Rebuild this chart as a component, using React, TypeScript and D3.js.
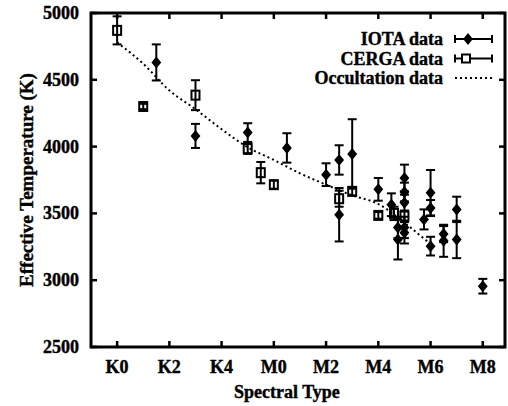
import React from "react";
import * as d3 from "d3";

// spectral types are mapped to an index: K0=0 ... K5=5, M0=6 ... M8=14
const tickIdx = [0, 2, 4, 6, 8, 10, 12, 14];
const tickNames = ["K0", "K2", "K4", "M0", "M2", "M4", "M6", "M8"];
const yTicks = [2500, 3000, 3500, 4000, 4500, 5000];

// [spectral index, Teff, error]
const iotaData = [
  [1.5, 4630, 135],
  [3, 4080, 90],
  [5, 4105, 70],
  [6.5, 3990, 110],
  [8, 3790, 85],
  [8.5, 3900, 110],
  [8.5, 3490, 200],
  [9, 3945, 260],
  [10, 3680, 85],
  [10.5, 3565, 85],
  [10.75, 3395, 80],
  [10.75, 3305, 150],
  [11, 3765, 100],
  [11, 3660, 70],
  [11, 3580, 60],
  [11, 3395, 80],
  [11, 3355, 80],
  [11.75, 3455, 75],
  [12, 3655, 170],
  [12, 3540, 60],
  [12, 3255, 70],
  [12.5, 3345, 60],
  [12.5, 3295, 120],
  [13, 3530, 95],
  [13, 3305, 140],
  [14, 2955, 55]
];

const cergaData = [
  [0, 4870, 105],
  [1, 4300, 20],
  [3, 4385, 112],
  [5, 3985, 40],
  [5.5, 3805, 80],
  [6, 3715, 30],
  [8.5, 3610, 60],
  [9, 3665, 30],
  [10, 3485, 25],
  [10.6, 3500, 50],
  [11, 3480, 40]
];

const occIdx = [0, 1, 2, 3, 4, 5, 6, 7, 8, 9, 10, 11, 12];
const occTeff = [4780, 4620, 4420, 4280, 4130, 3995, 3900, 3800, 3715, 3635, 3570, 3430, 3270];

const legendLabels = ["IOTA data", "CERGA data", "Occultation data"];

const W = 508;
const H = 406;
const left = 91, right = 505, top = 13, bottom = 347;
const font = "'Liberation Serif', 'Times New Roman', serif";

const x = d3.scaleLinear().domain([-1, 14.85]).range([left, right]);
const y = d3.scaleLinear().domain([2500, 5000]).range([bottom, top]);

const occLine = d3
  .line<number>()
  .x((d, i) => x(occIdx[i]))
  .y(d => y(d))
  .curve(d3.curveMonotoneX);

const diamond = (cx: number, cy: number, r = 6) =>
  `M${cx},${cy - r}L${cx + r * 0.82},${cy}L${cx},${cy + r}L${cx - r * 0.82},${cy}Z`;

const ErrBar = ({ d }: { d: number[] }) => {
  const cx = x(d[0]);
  const y1 = y(d[1] + d[2]);
  const y2 = y(d[1] - d[2]);
  return (
    <g stroke="#000" strokeWidth={2}>
      <line x1={cx} x2={cx} y1={y1} y2={y2} />
      <line x1={cx - 4.5} x2={cx + 4.5} y1={y1} y2={y1} />
      <line x1={cx - 4.5} x2={cx + 4.5} y1={y2} y2={y2} />
    </g>
  );
};

const txt = { stroke: "#000", strokeWidth: 0.4 };

export default function App() {
  return (
    <svg
      width={W}
      height={H}
      style={{ position: "absolute", left: 0, top: 0, background: "#fff" }}
      fontFamily={font}
      fontWeight="bold"
    >
      {/* occultation curve */}
      <path
        d={occLine(occTeff) || ""}
        fill="none"
        stroke="#000"
        strokeWidth={2}
        strokeDasharray="2,3"
      />

      {/* CERGA */}
      {cergaData.map((d, i) => (
        <g key={"c" + i}>
          <ErrBar d={d} />
          <rect
            x={x(d[0]) - 4}
            y={y(d[1]) - 4.5}
            width={8}
            height={9}
            fill="none"
            stroke="#000"
            strokeWidth={2}
          />
        </g>
      ))}

      {/* IOTA */}
      {iotaData.map((d, i) => (
        <g key={"i" + i}>
          <ErrBar d={d} />
          <path d={diamond(x(d[0]), y(d[1]))} fill="#000" />
        </g>
      ))}

      {/* frame */}
      <rect
        x={left}
        y={top}
        width={right - left}
        height={bottom - top}
        fill="none"
        stroke="#000"
        strokeWidth={3}
      />
      {tickIdx.map(t => (
        <g key={"xt" + t} stroke="#000" strokeWidth={2.5}>
          <line x1={x(t)} x2={x(t)} y1={bottom} y2={bottom - 6} />
          <line x1={x(t)} x2={x(t)} y1={top} y2={top + 6} />
        </g>
      ))}
      {yTicks.map(t => (
        <g key={"yt" + t} stroke="#000" strokeWidth={2.5}>
          <line x1={left} x2={left + 6} y1={y(t)} y2={y(t)} />
          <line x1={right} x2={right - 6} y1={y(t)} y2={y(t)} />
        </g>
      ))}

      {/* tick labels */}
      {tickIdx.map((t, i) => (
        <text key={"xl" + t} x={x(t)} y={373} textAnchor="middle" fontSize={18} {...txt}>
          {tickNames[i]}
        </text>
      ))}
      {yTicks.map(t => (
        <text key={"yl" + t} x={79} y={y(t) + 6} textAnchor="end" fontSize={18} {...txt}>
          {t}
        </text>
      ))}

      {/* axis titles */}
      <text x={x(6.5)} y={398} textAnchor="middle" fontSize={18} {...txt}>
        Spectral Type
      </text>
      <text
        transform={`translate(33,${(top + bottom) / 2}) rotate(-90)`}
        textAnchor="middle"
        fontSize={19}
        {...txt}
      >
        Effective Temperature (K)
      </text>

      {/* legend */}
      {legendLabels.map((l, i) => (
        <text key={l} x={443} y={45 + i * 19.5} textAnchor="end" fontSize={18} {...txt}>
          {l}
        </text>
      ))}
      <g stroke="#000" strokeWidth={2}>
        <line x1={455} x2={492} y1={39} y2={39} />
        <line x1={455} x2={455} y1={35} y2={43} />
        <line x1={492} x2={492} y1={35} y2={43} />
        <line x1={455} x2={492} y1={58.5} y2={58.5} />
        <line x1={455} x2={455} y1={54.5} y2={62.5} />
        <line x1={492} x2={492} y1={54.5} y2={62.5} />
        <line x1={455} x2={492} y1={78} y2={78} strokeDasharray="2,3" />
      </g>
      <path d={diamond(468, 39)} fill="#000" />
      <rect x={462} y={54.5} width={8} height={8} fill="#fff" stroke="#000" strokeWidth={2} />
    </svg>
  );
}
